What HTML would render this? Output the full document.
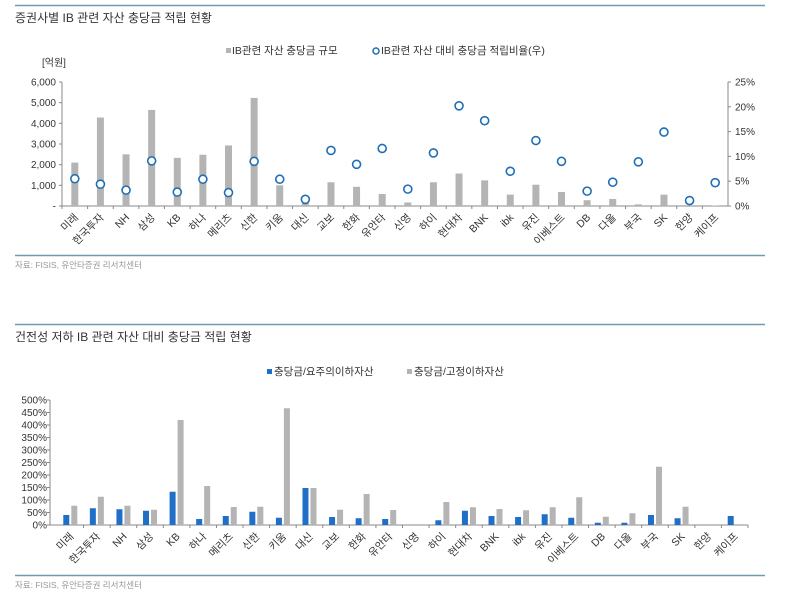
<!DOCTYPE html>
<html><head><meta charset="utf-8"><style>
body{margin:0;background:#fff;}
svg text{font-family:"Liberation Sans","Noto Sans CJK KR",sans-serif;fill:#333;}
</style></head><body>
<svg id="s" width="800" height="596" xmlns="http://www.w3.org/2000/svg">
<line x1="15" y1="5.5" x2="765" y2="5.5" stroke="#6f9bb0" stroke-width="1.5"/>
<text x="15" y="22" font-size="12">증권사별 IB 관련 자산 충당금 적립 현황</text>
<text x="42" y="66" font-size="10">[억원]</text>
<rect x="226" y="48" width="5" height="5" fill="#b4b4b4"/>
<text x="232" y="54" font-size="10.5">IB관련 자산 충당금 규모</text>
<circle cx="376" cy="51" r="3" fill="#fff" stroke="#1f6fb5" stroke-width="1.5"/>
<text x="381" y="54" font-size="10.5">IB관련 자산 대비 충당금 적립비율(우)</text>
<g id="c1"></g>
<line x1="15" y1="255.5" x2="765" y2="255.5" stroke="#6f9bb0" stroke-width="1.5"/>
<text x="15" y="268" font-size="8.5" fill="#999" style="fill:#999">자료: FISIS, 유안타증권 리서치센터</text>

<line x1="15" y1="324.5" x2="765" y2="324.5" stroke="#6f9bb0" stroke-width="1.5"/>
<text x="15" y="341" font-size="12">건전성 저하 IB 관련 자산 대비 충당금 적립 현황</text>
<rect x="267" y="369" width="5" height="5" fill="#1f6fc8"/>
<text x="274" y="375" font-size="10.5">충당금/요주의이하자산</text>
<rect x="407" y="369" width="5" height="5" fill="#b4b4b4"/>
<text x="414" y="375" font-size="10.5">충당금/고정이하자산</text>
<g id="c2"></g>
<line x1="15" y1="575.5" x2="765" y2="575.5" stroke="#6f9bb0" stroke-width="1.5"/>
<text x="15" y="588" font-size="8.5" style="fill:#999">자료: FISIS, 유안타증권 리서치센터</text>
</svg>
<script>
const categories=["미래","한국투자","NH","삼성","KB","하나","메리츠","신한","키움","대신","교보","한화","유안타","신영","하이","현대차","BNK","ibk","유진","이베스트","DB","다올","부국","SK","한양","케이프"];
const reserveAmounts=[2100,4280,2500,4650,2330,2480,2930,5230,1000,150,1150,930,580,170,1150,1570,1240,550,1030,680,280,340,80,550,0,20];
const reserveRatios=[5.5,4.4,3.2,9.1,2.8,5.4,2.7,9.0,5.4,1.35,11.2,8.4,11.6,3.4,10.7,20.2,17.2,7.0,13.2,9.0,3.0,4.8,8.9,14.9,1.1,4.7];
const leftTicks=[0,1000,2000,3000,4000,5000,6000];
const leftTickLabels=["-","1,000","2,000","3,000","4,000","5,000","6,000"];
const rightTicks=[0,5,10,15,20,25];
const watchRatios=[40,67,63,57,133,24,36,53,29,148,32,27,24,0,19,57,36,32,43,29,9,9,40,27,0,36];
const substdRatios=[77,113,77,61,420,156,72,73,467,148,61,124,60,0,92,71,64,59,71,111,33,47,233,73,0,0];
const pctTicks=[0,50,100,150,200,250,300,350,400,450,500];
const NS="http://www.w3.org/2000/svg";
function mk(p,t,a){const e=document.createElementNS(NS,t);for(const k in a)e.setAttribute(k,a[k]);p.appendChild(e);return e;}
// chart 1
const g1=document.getElementById('c1');
const L1=62,R1=728,T1=82,B1=206;
const x1=i=>L1+(R1-L1)/categories.length*(i+0.5);
const yL=v=>B1-(v/6000)*(B1-T1);
const yR=v=>B1-(v/25)*(B1-T1);
let ax=mk(g1,'line',{x1:L1,y1:T1,x2:L1,y2:B1,stroke:'#888'});

ax=mk(g1,'line',{x1:R1,y1:T1,x2:R1,y2:B1,stroke:'#888'});

ax=mk(g1,'line',{x1:L1,y1:B1,x2:R1,y2:B1,stroke:'#888'});

leftTicks.forEach((v,i)=>{mk(g1,'line',{x1:L1-3,y1:yL(v),x2:L1,y2:yL(v),stroke:'#888'});
const t=mk(g1,'text',{x:L1-6,y:yL(v)+3.5,'font-size':10,'text-anchor':'end'});t.textContent=leftTickLabels[i];
});
rightTicks.forEach(v=>{mk(g1,'line',{x1:R1,y1:yR(v),x2:R1+3,y2:yR(v),stroke:'#888'});
const t=mk(g1,'text',{x:R1+7,y:yR(v)+3.5,'font-size':10});t.textContent=v+'%';
});
categories.forEach((c,i)=>{const x=x1(i);
mk(g1,'line',{x1:L1+(R1-L1)/categories.length*i,y1:B1,x2:L1+(R1-L1)/categories.length*i,y2:B1+3,stroke:'#888'});
const b=mk(g1,'rect',{x:x-3.5,y:yL(reserveAmounts[i]),width:7,height:B1-yL(reserveAmounts[i]),fill:'#b4b4b4'});

const p=mk(g1,'circle',{cx:x,cy:yR(reserveRatios[i]),r:4,fill:'#fff',stroke:'#1f6fb5','stroke-width':1.6});

const t=mk(g1,'text',{x:x+4,y:B1+12,'font-size':10.5,'text-anchor':'end',transform:`rotate(-45 ${x+4} ${B1+12})`});t.textContent=c;
});
// chart 2
const g2=document.getElementById('c2');
const L2=50,X0=57,R2=748,T2=400,B2=525;
const step=(R2-X0)/categories.length;
const x2=i=>X0+step*(i+0.5);
const y2=v=>B2-(v/500)*(B2-T2);
ax=mk(g2,'line',{x1:L2,y1:T2,x2:L2,y2:B2,stroke:'#888'});

ax=mk(g2,'line',{x1:L2,y1:B2,x2:R2,y2:B2,stroke:'#888'});

pctTicks.forEach(v=>{mk(g2,'line',{x1:L2-3,y1:y2(v),x2:L2,y2:y2(v),stroke:'#888'});
const t=mk(g2,'text',{x:L2-3,y:y2(v)+3.5,'font-size':10,'text-anchor':'end'});t.textContent=v+'%';
});
categories.forEach((c,i)=>{const x=x2(i);
mk(g2,'line',{x1:X0+step*(i+1),y1:B2,x2:X0+step*(i+1),y2:B2+3,stroke:'#888'});
const b1=mk(g2,'rect',{x:x-7,y:y2(watchRatios[i]),width:6,height:B2-y2(watchRatios[i]),fill:'#1f6fc8'});

const b2=mk(g2,'rect',{x:x+1,y:y2(substdRatios[i]),width:6,height:B2-y2(substdRatios[i]),fill:'#b4b4b4'});

const t=mk(g2,'text',{x:x+4,y:B2+12,'font-size':10.5,'text-anchor':'end',transform:`rotate(-45 ${x+4} ${B2+12})`});t.textContent=c;
});
</script>
</body></html>
